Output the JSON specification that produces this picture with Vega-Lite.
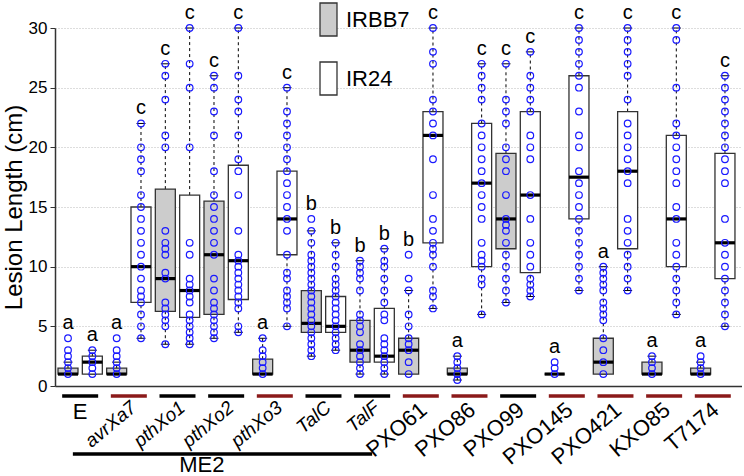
{
  "$schema": "https://vega.github.io/schema/vega-lite/v6.json",
  "padding": {"left": 2, "top": 2, "right": 0, "bottom": 0},
  "background": "white",
  "config": {"font": "Liberation Sans", "view": {"stroke": null}, "text": {"color": "black"}, "tick": {"opacity": 1}},
  "spacing": 0,
  "bounds": "flush",
  "datasets": {
    "stats": [
      {"strain":"E","cultivar":"IRBB7","q1":1,"median":1,"q3":1.5,"lo":1,"hi":2,"top":4,"letter":"a"},
      {"strain":"E","cultivar":"IR24","q1":1,"median":2,"q3":2.5,"lo":1,"hi":3,"top":3,"letter":"a"},
      {"strain":"avrXa7","cultivar":"IRBB7","q1":1,"median":1,"q3":1.5,"lo":1,"hi":2,"top":4,"letter":"a"},
      {"strain":"avrXa7","cultivar":"IR24","q1":7,"median":10,"q3":15,"lo":4,"hi":22,"top":22,"letter":"c"},
      {"strain":"pthXo1","cultivar":"IRBB7","q1":6.25,"median":9,"q3":16.5,"lo":3.5,"hi":27,"top":27,"letter":"c"},
      {"strain":"pthXo1","cultivar":"IR24","q1":5.75,"median":8,"q3":16,"lo":3.5,"hi":30,"top":30,"letter":"c"},
      {"strain":"pthXo2","cultivar":"IRBB7","q1":6,"median":11,"q3":15.5,"lo":4,"hi":26,"top":26,"letter":"c"},
      {"strain":"pthXo2","cultivar":"IR24","q1":7.25,"median":10.5,"q3":18.5,"lo":4.5,"hi":30,"top":30,"letter":"c"},
      {"strain":"pthXo3","cultivar":"IRBB7","q1":1,"median":1,"q3":2.25,"lo":1,"hi":4,"top":4,"letter":"a"},
      {"strain":"pthXo3","cultivar":"IR24","q1":11,"median":14,"q3":18,"lo":5,"hi":25,"top":25,"letter":"c"},
      {"strain":"TalC","cultivar":"IRBB7","q1":4.5,"median":5.25,"q3":8,"lo":2.5,"hi":13,"top":14,"letter":"b"},
      {"strain":"TalC","cultivar":"IR24","q1":4.5,"median":5,"q3":7.5,"lo":3,"hi":12,"top":12,"letter":"b"},
      {"strain":"TalF","cultivar":"IRBB7","q1":2,"median":3,"q3":5.5,"lo":1,"hi":10.5,"top":10.5,"letter":"b"},
      {"strain":"TalF","cultivar":"IR24","q1":2,"median":2.5,"q3":6.5,"lo":1,"hi":11.5,"top":11.5,"letter":"b"},
      {"strain":"PXO61","cultivar":"IRBB7","q1":1,"median":3,"q3":4,"lo":1,"hi":8,"top":11,"letter":"b"},
      {"strain":"PXO61","cultivar":"IR24","q1":12,"median":21,"q3":23,"lo":6.5,"hi":30,"top":30,"letter":"c"},
      {"strain":"PXO86","cultivar":"IRBB7","q1":1,"median":1,"q3":1.5,"lo":0.5,"hi":2.5,"top":2.5,"letter":"a"},
      {"strain":"PXO86","cultivar":"IR24","q1":10,"median":17,"q3":22,"lo":6,"hi":27,"top":27,"letter":"c"},
      {"strain":"PXO99","cultivar":"IRBB7","q1":11.5,"median":14,"q3":19.5,"lo":7,"hi":27,"top":27,"letter":"c"},
      {"strain":"PXO99","cultivar":"IR24","q1":9.5,"median":16,"q3":23,"lo":7.5,"hi":28,"top":28,"letter":"c"},
      {"strain":"PXO145","cultivar":"IRBB7","q1":1,"median":1,"q3":1,"lo":1,"hi":1,"top":2,"letter":"a"},
      {"strain":"PXO145","cultivar":"IR24","q1":14,"median":17.5,"q3":26,"lo":8,"hi":30,"top":30,"letter":"c"},
      {"strain":"PXO421","cultivar":"IRBB7","q1":1,"median":2,"q3":4,"lo":1,"hi":10,"top":10,"letter":"a"},
      {"strain":"PXO421","cultivar":"IR24","q1":11.5,"median":18,"q3":23,"lo":8,"hi":30,"top":30,"letter":"c"},
      {"strain":"KXO85","cultivar":"IRBB7","q1":1,"median":1,"q3":2,"lo":1,"hi":2.5,"top":2.5,"letter":"a"},
      {"strain":"KXO85","cultivar":"IR24","q1":10,"median":14,"q3":21,"lo":6,"hi":30,"top":30,"letter":"c"},
      {"strain":"T7174","cultivar":"IRBB7","q1":1,"median":1,"q3":1.5,"lo":1,"hi":2,"top":2.5,"letter":"a"},
      {"strain":"T7174","cultivar":"IR24","q1":9,"median":12,"q3":19.5,"lo":5,"hi":26,"top":26,"letter":"c"}
    ],
    "strains": [
      {"strain":"E","set":"E","Xa7":"virulent"},
      {"strain":"avrXa7","set":"ME2","Xa7":"avirulent"},
      {"strain":"pthXo1","set":"ME2","Xa7":"virulent"},
      {"strain":"pthXo2","set":"ME2","Xa7":"virulent"},
      {"strain":"pthXo3","set":"ME2","Xa7":"avirulent"},
      {"strain":"TalC","set":"ME2","Xa7":"virulent"},
      {"strain":"TalF","set":"ME2","Xa7":"virulent"},
      {"strain":"PXO61","set":"isolate","Xa7":"avirulent"},
      {"strain":"PXO86","set":"isolate","Xa7":"avirulent"},
      {"strain":"PXO99","set":"isolate","Xa7":"virulent"},
      {"strain":"PXO145","set":"isolate","Xa7":"avirulent"},
      {"strain":"PXO421","set":"isolate","Xa7":"avirulent"},
      {"strain":"KXO85","set":"isolate","Xa7":"avirulent"},
      {"strain":"T7174","set":"isolate","Xa7":"avirulent"}
    ],
    "points": [
      {"strain":"E","cultivar":"IRBB7","cm":1},{"strain":"E","cultivar":"IRBB7","cm":1.5},{"strain":"E","cultivar":"IRBB7","cm":2},{"strain":"E","cultivar":"IRBB7","cm":2.5},{"strain":"E","cultivar":"IRBB7","cm":3},{"strain":"E","cultivar":"IRBB7","cm":4},
      {"strain":"E","cultivar":"IR24","cm":1},{"strain":"E","cultivar":"IR24","cm":1.5},{"strain":"E","cultivar":"IR24","cm":2},{"strain":"E","cultivar":"IR24","cm":2.5},{"strain":"E","cultivar":"IR24","cm":3},
      {"strain":"avrXa7","cultivar":"IRBB7","cm":1},{"strain":"avrXa7","cultivar":"IRBB7","cm":1.5},{"strain":"avrXa7","cultivar":"IRBB7","cm":2},{"strain":"avrXa7","cultivar":"IRBB7","cm":2.5},{"strain":"avrXa7","cultivar":"IRBB7","cm":3},{"strain":"avrXa7","cultivar":"IRBB7","cm":4},
      {"strain":"avrXa7","cultivar":"IR24","cm":4},{"strain":"avrXa7","cultivar":"IR24","cm":5},{"strain":"avrXa7","cultivar":"IR24","cm":6},{"strain":"avrXa7","cultivar":"IR24","cm":7},{"strain":"avrXa7","cultivar":"IR24","cm":7.5},{"strain":"avrXa7","cultivar":"IR24","cm":8},{"strain":"avrXa7","cultivar":"IR24","cm":9},{"strain":"avrXa7","cultivar":"IR24","cm":10},{"strain":"avrXa7","cultivar":"IR24","cm":11},{"strain":"avrXa7","cultivar":"IR24","cm":12},{"strain":"avrXa7","cultivar":"IR24","cm":13},{"strain":"avrXa7","cultivar":"IR24","cm":14},{"strain":"avrXa7","cultivar":"IR24","cm":15},{"strain":"avrXa7","cultivar":"IR24","cm":16},{"strain":"avrXa7","cultivar":"IR24","cm":18},{"strain":"avrXa7","cultivar":"IR24","cm":19},{"strain":"avrXa7","cultivar":"IR24","cm":20},{"strain":"avrXa7","cultivar":"IR24","cm":22},
      {"strain":"pthXo1","cultivar":"IRBB7","cm":3.5},{"strain":"pthXo1","cultivar":"IRBB7","cm":5},{"strain":"pthXo1","cultivar":"IRBB7","cm":5.5},{"strain":"pthXo1","cultivar":"IRBB7","cm":6},{"strain":"pthXo1","cultivar":"IRBB7","cm":6.5},{"strain":"pthXo1","cultivar":"IRBB7","cm":7},{"strain":"pthXo1","cultivar":"IRBB7","cm":9},{"strain":"pthXo1","cultivar":"IRBB7","cm":9.5},{"strain":"pthXo1","cultivar":"IRBB7","cm":11},{"strain":"pthXo1","cultivar":"IRBB7","cm":11.5},{"strain":"pthXo1","cultivar":"IRBB7","cm":12},{"strain":"pthXo1","cultivar":"IRBB7","cm":13},{"strain":"pthXo1","cultivar":"IRBB7","cm":20},{"strain":"pthXo1","cultivar":"IRBB7","cm":21},{"strain":"pthXo1","cultivar":"IRBB7","cm":24},{"strain":"pthXo1","cultivar":"IRBB7","cm":26},{"strain":"pthXo1","cultivar":"IRBB7","cm":27},
      {"strain":"pthXo1","cultivar":"IR24","cm":3.5},{"strain":"pthXo1","cultivar":"IR24","cm":4},{"strain":"pthXo1","cultivar":"IR24","cm":4.5},{"strain":"pthXo1","cultivar":"IR24","cm":5},{"strain":"pthXo1","cultivar":"IR24","cm":5.5},{"strain":"pthXo1","cultivar":"IR24","cm":6},{"strain":"pthXo1","cultivar":"IR24","cm":7},{"strain":"pthXo1","cultivar":"IR24","cm":7.5},{"strain":"pthXo1","cultivar":"IR24","cm":8},{"strain":"pthXo1","cultivar":"IR24","cm":8.5},{"strain":"pthXo1","cultivar":"IR24","cm":9},{"strain":"pthXo1","cultivar":"IR24","cm":11},{"strain":"pthXo1","cultivar":"IR24","cm":12},{"strain":"pthXo1","cultivar":"IR24","cm":20},{"strain":"pthXo1","cultivar":"IR24","cm":25},{"strain":"pthXo1","cultivar":"IR24","cm":27},{"strain":"pthXo1","cultivar":"IR24","cm":30},
      {"strain":"pthXo2","cultivar":"IRBB7","cm":4},{"strain":"pthXo2","cultivar":"IRBB7","cm":4.5},{"strain":"pthXo2","cultivar":"IRBB7","cm":5},{"strain":"pthXo2","cultivar":"IRBB7","cm":5.5},{"strain":"pthXo2","cultivar":"IRBB7","cm":6},{"strain":"pthXo2","cultivar":"IRBB7","cm":6.5},{"strain":"pthXo2","cultivar":"IRBB7","cm":7},{"strain":"pthXo2","cultivar":"IRBB7","cm":8},{"strain":"pthXo2","cultivar":"IRBB7","cm":9},{"strain":"pthXo2","cultivar":"IRBB7","cm":11},{"strain":"pthXo2","cultivar":"IRBB7","cm":12},{"strain":"pthXo2","cultivar":"IRBB7","cm":13},{"strain":"pthXo2","cultivar":"IRBB7","cm":14},{"strain":"pthXo2","cultivar":"IRBB7","cm":15},{"strain":"pthXo2","cultivar":"IRBB7","cm":16},{"strain":"pthXo2","cultivar":"IRBB7","cm":18},{"strain":"pthXo2","cultivar":"IRBB7","cm":21},{"strain":"pthXo2","cultivar":"IRBB7","cm":23},{"strain":"pthXo2","cultivar":"IRBB7","cm":25},{"strain":"pthXo2","cultivar":"IRBB7","cm":26},
      {"strain":"pthXo2","cultivar":"IR24","cm":4.5},{"strain":"pthXo2","cultivar":"IR24","cm":5},{"strain":"pthXo2","cultivar":"IR24","cm":6.5},{"strain":"pthXo2","cultivar":"IR24","cm":7},{"strain":"pthXo2","cultivar":"IR24","cm":7.5},{"strain":"pthXo2","cultivar":"IR24","cm":8},{"strain":"pthXo2","cultivar":"IR24","cm":8.5},{"strain":"pthXo2","cultivar":"IR24","cm":9},{"strain":"pthXo2","cultivar":"IR24","cm":9.5},{"strain":"pthXo2","cultivar":"IR24","cm":10},{"strain":"pthXo2","cultivar":"IR24","cm":10.5},{"strain":"pthXo2","cultivar":"IR24","cm":11},{"strain":"pthXo2","cultivar":"IR24","cm":13},{"strain":"pthXo2","cultivar":"IR24","cm":16},{"strain":"pthXo2","cultivar":"IR24","cm":18},{"strain":"pthXo2","cultivar":"IR24","cm":19},{"strain":"pthXo2","cultivar":"IR24","cm":21},{"strain":"pthXo2","cultivar":"IR24","cm":23},{"strain":"pthXo2","cultivar":"IR24","cm":24},{"strain":"pthXo2","cultivar":"IR24","cm":26},{"strain":"pthXo2","cultivar":"IR24","cm":30},
      {"strain":"pthXo3","cultivar":"IRBB7","cm":1},{"strain":"pthXo3","cultivar":"IRBB7","cm":1.5},{"strain":"pthXo3","cultivar":"IRBB7","cm":2},{"strain":"pthXo3","cultivar":"IRBB7","cm":2.5},{"strain":"pthXo3","cultivar":"IRBB7","cm":3},{"strain":"pthXo3","cultivar":"IRBB7","cm":4},
      {"strain":"pthXo3","cultivar":"IR24","cm":5},{"strain":"pthXo3","cultivar":"IR24","cm":6.5},{"strain":"pthXo3","cultivar":"IR24","cm":7},{"strain":"pthXo3","cultivar":"IR24","cm":7.5},{"strain":"pthXo3","cultivar":"IR24","cm":8},{"strain":"pthXo3","cultivar":"IR24","cm":9},{"strain":"pthXo3","cultivar":"IR24","cm":9.5},{"strain":"pthXo3","cultivar":"IR24","cm":11},{"strain":"pthXo3","cultivar":"IR24","cm":13},{"strain":"pthXo3","cultivar":"IR24","cm":14},{"strain":"pthXo3","cultivar":"IR24","cm":15},{"strain":"pthXo3","cultivar":"IR24","cm":16},{"strain":"pthXo3","cultivar":"IR24","cm":17},{"strain":"pthXo3","cultivar":"IR24","cm":18},{"strain":"pthXo3","cultivar":"IR24","cm":19},{"strain":"pthXo3","cultivar":"IR24","cm":20},{"strain":"pthXo3","cultivar":"IR24","cm":21},{"strain":"pthXo3","cultivar":"IR24","cm":22},{"strain":"pthXo3","cultivar":"IR24","cm":23},{"strain":"pthXo3","cultivar":"IR24","cm":25},
      {"strain":"TalC","cultivar":"IRBB7","cm":2.5},{"strain":"TalC","cultivar":"IRBB7","cm":3},{"strain":"TalC","cultivar":"IRBB7","cm":3.5},{"strain":"TalC","cultivar":"IRBB7","cm":4},{"strain":"TalC","cultivar":"IRBB7","cm":4.5},{"strain":"TalC","cultivar":"IRBB7","cm":5},{"strain":"TalC","cultivar":"IRBB7","cm":5.5},{"strain":"TalC","cultivar":"IRBB7","cm":6},{"strain":"TalC","cultivar":"IRBB7","cm":6.5},{"strain":"TalC","cultivar":"IRBB7","cm":7},{"strain":"TalC","cultivar":"IRBB7","cm":7.5},{"strain":"TalC","cultivar":"IRBB7","cm":8},{"strain":"TalC","cultivar":"IRBB7","cm":8.5},{"strain":"TalC","cultivar":"IRBB7","cm":9},{"strain":"TalC","cultivar":"IRBB7","cm":9.5},{"strain":"TalC","cultivar":"IRBB7","cm":10},{"strain":"TalC","cultivar":"IRBB7","cm":10.5},{"strain":"TalC","cultivar":"IRBB7","cm":11},{"strain":"TalC","cultivar":"IRBB7","cm":12},{"strain":"TalC","cultivar":"IRBB7","cm":13},{"strain":"TalC","cultivar":"IRBB7","cm":14},
      {"strain":"TalC","cultivar":"IR24","cm":3},{"strain":"TalC","cultivar":"IR24","cm":3.5},{"strain":"TalC","cultivar":"IR24","cm":4},{"strain":"TalC","cultivar":"IR24","cm":4.5},{"strain":"TalC","cultivar":"IR24","cm":5},{"strain":"TalC","cultivar":"IR24","cm":5.5},{"strain":"TalC","cultivar":"IR24","cm":6},{"strain":"TalC","cultivar":"IR24","cm":6.5},{"strain":"TalC","cultivar":"IR24","cm":7},{"strain":"TalC","cultivar":"IR24","cm":7.5},{"strain":"TalC","cultivar":"IR24","cm":8},{"strain":"TalC","cultivar":"IR24","cm":8.5},{"strain":"TalC","cultivar":"IR24","cm":9},{"strain":"TalC","cultivar":"IR24","cm":10},{"strain":"TalC","cultivar":"IR24","cm":11},{"strain":"TalC","cultivar":"IR24","cm":12},
      {"strain":"TalF","cultivar":"IRBB7","cm":1},{"strain":"TalF","cultivar":"IRBB7","cm":1.5},{"strain":"TalF","cultivar":"IRBB7","cm":2},{"strain":"TalF","cultivar":"IRBB7","cm":2.5},{"strain":"TalF","cultivar":"IRBB7","cm":3},{"strain":"TalF","cultivar":"IRBB7","cm":3.5},{"strain":"TalF","cultivar":"IRBB7","cm":4.5},{"strain":"TalF","cultivar":"IRBB7","cm":5},{"strain":"TalF","cultivar":"IRBB7","cm":5.5},{"strain":"TalF","cultivar":"IRBB7","cm":6},{"strain":"TalF","cultivar":"IRBB7","cm":8},{"strain":"TalF","cultivar":"IRBB7","cm":9},{"strain":"TalF","cultivar":"IRBB7","cm":9.5},{"strain":"TalF","cultivar":"IRBB7","cm":10},{"strain":"TalF","cultivar":"IRBB7","cm":10.5},
      {"strain":"TalF","cultivar":"IR24","cm":1},{"strain":"TalF","cultivar":"IR24","cm":1.5},{"strain":"TalF","cultivar":"IR24","cm":2},{"strain":"TalF","cultivar":"IR24","cm":2.5},{"strain":"TalF","cultivar":"IR24","cm":3},{"strain":"TalF","cultivar":"IR24","cm":3.5},{"strain":"TalF","cultivar":"IR24","cm":4},{"strain":"TalF","cultivar":"IR24","cm":5.5},{"strain":"TalF","cultivar":"IR24","cm":6},{"strain":"TalF","cultivar":"IR24","cm":7},{"strain":"TalF","cultivar":"IR24","cm":8},{"strain":"TalF","cultivar":"IR24","cm":9},{"strain":"TalF","cultivar":"IR24","cm":10},{"strain":"TalF","cultivar":"IR24","cm":10.5},{"strain":"TalF","cultivar":"IR24","cm":11.5},
      {"strain":"PXO61","cultivar":"IRBB7","cm":1},{"strain":"PXO61","cultivar":"IRBB7","cm":2},{"strain":"PXO61","cultivar":"IRBB7","cm":3},{"strain":"PXO61","cultivar":"IRBB7","cm":3.5},{"strain":"PXO61","cultivar":"IRBB7","cm":4},{"strain":"PXO61","cultivar":"IRBB7","cm":5},{"strain":"PXO61","cultivar":"IRBB7","cm":6},{"strain":"PXO61","cultivar":"IRBB7","cm":8},{"strain":"PXO61","cultivar":"IRBB7","cm":9},{"strain":"PXO61","cultivar":"IRBB7","cm":11},
      {"strain":"PXO61","cultivar":"IR24","cm":6.5},{"strain":"PXO61","cultivar":"IR24","cm":7.5},{"strain":"PXO61","cultivar":"IR24","cm":8},{"strain":"PXO61","cultivar":"IR24","cm":10},{"strain":"PXO61","cultivar":"IR24","cm":11},{"strain":"PXO61","cultivar":"IR24","cm":11.5},{"strain":"PXO61","cultivar":"IR24","cm":12},{"strain":"PXO61","cultivar":"IR24","cm":13},{"strain":"PXO61","cultivar":"IR24","cm":14},{"strain":"PXO61","cultivar":"IR24","cm":16},{"strain":"PXO61","cultivar":"IR24","cm":19},{"strain":"PXO61","cultivar":"IR24","cm":21},{"strain":"PXO61","cultivar":"IR24","cm":22},{"strain":"PXO61","cultivar":"IR24","cm":23},{"strain":"PXO61","cultivar":"IR24","cm":24},{"strain":"PXO61","cultivar":"IR24","cm":27},{"strain":"PXO61","cultivar":"IR24","cm":28},{"strain":"PXO61","cultivar":"IR24","cm":30},
      {"strain":"PXO86","cultivar":"IRBB7","cm":0.5},{"strain":"PXO86","cultivar":"IRBB7","cm":1},{"strain":"PXO86","cultivar":"IRBB7","cm":1.5},{"strain":"PXO86","cultivar":"IRBB7","cm":2},{"strain":"PXO86","cultivar":"IRBB7","cm":2.5},
      {"strain":"PXO86","cultivar":"IR24","cm":6},{"strain":"PXO86","cultivar":"IR24","cm":8.5},{"strain":"PXO86","cultivar":"IR24","cm":9},{"strain":"PXO86","cultivar":"IR24","cm":10},{"strain":"PXO86","cultivar":"IR24","cm":10.5},{"strain":"PXO86","cultivar":"IR24","cm":11},{"strain":"PXO86","cultivar":"IR24","cm":12},{"strain":"PXO86","cultivar":"IR24","cm":14},{"strain":"PXO86","cultivar":"IR24","cm":15},{"strain":"PXO86","cultivar":"IR24","cm":16},{"strain":"PXO86","cultivar":"IR24","cm":17},{"strain":"PXO86","cultivar":"IR24","cm":18},{"strain":"PXO86","cultivar":"IR24","cm":19},{"strain":"PXO86","cultivar":"IR24","cm":20},{"strain":"PXO86","cultivar":"IR24","cm":21},{"strain":"PXO86","cultivar":"IR24","cm":22},{"strain":"PXO86","cultivar":"IR24","cm":24},{"strain":"PXO86","cultivar":"IR24","cm":25},{"strain":"PXO86","cultivar":"IR24","cm":26},{"strain":"PXO86","cultivar":"IR24","cm":27},
      {"strain":"PXO99","cultivar":"IRBB7","cm":7},{"strain":"PXO99","cultivar":"IRBB7","cm":8},{"strain":"PXO99","cultivar":"IRBB7","cm":9},{"strain":"PXO99","cultivar":"IRBB7","cm":10},{"strain":"PXO99","cultivar":"IRBB7","cm":11},{"strain":"PXO99","cultivar":"IRBB7","cm":12},{"strain":"PXO99","cultivar":"IRBB7","cm":13},{"strain":"PXO99","cultivar":"IRBB7","cm":13.5},{"strain":"PXO99","cultivar":"IRBB7","cm":14},{"strain":"PXO99","cultivar":"IRBB7","cm":16},{"strain":"PXO99","cultivar":"IRBB7","cm":18},{"strain":"PXO99","cultivar":"IRBB7","cm":19},{"strain":"PXO99","cultivar":"IRBB7","cm":20},{"strain":"PXO99","cultivar":"IRBB7","cm":22},{"strain":"PXO99","cultivar":"IRBB7","cm":23},{"strain":"PXO99","cultivar":"IRBB7","cm":24},{"strain":"PXO99","cultivar":"IRBB7","cm":27},
      {"strain":"PXO99","cultivar":"IR24","cm":7.5},{"strain":"PXO99","cultivar":"IR24","cm":8},{"strain":"PXO99","cultivar":"IR24","cm":8.5},{"strain":"PXO99","cultivar":"IR24","cm":9},{"strain":"PXO99","cultivar":"IR24","cm":10},{"strain":"PXO99","cultivar":"IR24","cm":11},{"strain":"PXO99","cultivar":"IR24","cm":12},{"strain":"PXO99","cultivar":"IR24","cm":14},{"strain":"PXO99","cultivar":"IR24","cm":16},{"strain":"PXO99","cultivar":"IR24","cm":19},{"strain":"PXO99","cultivar":"IR24","cm":20},{"strain":"PXO99","cultivar":"IR24","cm":21},{"strain":"PXO99","cultivar":"IR24","cm":23},{"strain":"PXO99","cultivar":"IR24","cm":24},{"strain":"PXO99","cultivar":"IR24","cm":25},{"strain":"PXO99","cultivar":"IR24","cm":26},{"strain":"PXO99","cultivar":"IR24","cm":28},
      {"strain":"PXO145","cultivar":"IRBB7","cm":1},{"strain":"PXO145","cultivar":"IRBB7","cm":1.5},{"strain":"PXO145","cultivar":"IRBB7","cm":2},
      {"strain":"PXO145","cultivar":"IR24","cm":8},{"strain":"PXO145","cultivar":"IR24","cm":9},{"strain":"PXO145","cultivar":"IR24","cm":10},{"strain":"PXO145","cultivar":"IR24","cm":11},{"strain":"PXO145","cultivar":"IR24","cm":12},{"strain":"PXO145","cultivar":"IR24","cm":13},{"strain":"PXO145","cultivar":"IR24","cm":14},{"strain":"PXO145","cultivar":"IR24","cm":15},{"strain":"PXO145","cultivar":"IR24","cm":16},{"strain":"PXO145","cultivar":"IR24","cm":17},{"strain":"PXO145","cultivar":"IR24","cm":18},{"strain":"PXO145","cultivar":"IR24","cm":20},{"strain":"PXO145","cultivar":"IR24","cm":21},{"strain":"PXO145","cultivar":"IR24","cm":23},{"strain":"PXO145","cultivar":"IR24","cm":25},{"strain":"PXO145","cultivar":"IR24","cm":26},{"strain":"PXO145","cultivar":"IR24","cm":27},{"strain":"PXO145","cultivar":"IR24","cm":28},{"strain":"PXO145","cultivar":"IR24","cm":29},{"strain":"PXO145","cultivar":"IR24","cm":30},
      {"strain":"PXO421","cultivar":"IRBB7","cm":1},{"strain":"PXO421","cultivar":"IRBB7","cm":2},{"strain":"PXO421","cultivar":"IRBB7","cm":3},{"strain":"PXO421","cultivar":"IRBB7","cm":4},{"strain":"PXO421","cultivar":"IRBB7","cm":5.5},{"strain":"PXO421","cultivar":"IRBB7","cm":6},{"strain":"PXO421","cultivar":"IRBB7","cm":6.5},{"strain":"PXO421","cultivar":"IRBB7","cm":7},{"strain":"PXO421","cultivar":"IRBB7","cm":8},{"strain":"PXO421","cultivar":"IRBB7","cm":8.5},{"strain":"PXO421","cultivar":"IRBB7","cm":9},{"strain":"PXO421","cultivar":"IRBB7","cm":9.5},{"strain":"PXO421","cultivar":"IRBB7","cm":10},
      {"strain":"PXO421","cultivar":"IR24","cm":8},{"strain":"PXO421","cultivar":"IR24","cm":9},{"strain":"PXO421","cultivar":"IR24","cm":10},{"strain":"PXO421","cultivar":"IR24","cm":11},{"strain":"PXO421","cultivar":"IR24","cm":12},{"strain":"PXO421","cultivar":"IR24","cm":13},{"strain":"PXO421","cultivar":"IR24","cm":14},{"strain":"PXO421","cultivar":"IR24","cm":17},{"strain":"PXO421","cultivar":"IR24","cm":18},{"strain":"PXO421","cultivar":"IR24","cm":19},{"strain":"PXO421","cultivar":"IR24","cm":20},{"strain":"PXO421","cultivar":"IR24","cm":21},{"strain":"PXO421","cultivar":"IR24","cm":22},{"strain":"PXO421","cultivar":"IR24","cm":24},{"strain":"PXO421","cultivar":"IR24","cm":26},{"strain":"PXO421","cultivar":"IR24","cm":27},{"strain":"PXO421","cultivar":"IR24","cm":28},{"strain":"PXO421","cultivar":"IR24","cm":29},{"strain":"PXO421","cultivar":"IR24","cm":30},
      {"strain":"KXO85","cultivar":"IRBB7","cm":1},{"strain":"KXO85","cultivar":"IRBB7","cm":1.5},{"strain":"KXO85","cultivar":"IRBB7","cm":2},{"strain":"KXO85","cultivar":"IRBB7","cm":2.5},
      {"strain":"KXO85","cultivar":"IR24","cm":6},{"strain":"KXO85","cultivar":"IR24","cm":7},{"strain":"KXO85","cultivar":"IR24","cm":8},{"strain":"KXO85","cultivar":"IR24","cm":9},{"strain":"KXO85","cultivar":"IR24","cm":10},{"strain":"KXO85","cultivar":"IR24","cm":11},{"strain":"KXO85","cultivar":"IR24","cm":12},{"strain":"KXO85","cultivar":"IR24","cm":14},{"strain":"KXO85","cultivar":"IR24","cm":15},{"strain":"KXO85","cultivar":"IR24","cm":17},{"strain":"KXO85","cultivar":"IR24","cm":18},{"strain":"KXO85","cultivar":"IR24","cm":19},{"strain":"KXO85","cultivar":"IR24","cm":20},{"strain":"KXO85","cultivar":"IR24","cm":21},{"strain":"KXO85","cultivar":"IR24","cm":22},{"strain":"KXO85","cultivar":"IR24","cm":25},{"strain":"KXO85","cultivar":"IR24","cm":29},{"strain":"KXO85","cultivar":"IR24","cm":30},
      {"strain":"T7174","cultivar":"IRBB7","cm":1},{"strain":"T7174","cultivar":"IRBB7","cm":1.5},{"strain":"T7174","cultivar":"IRBB7","cm":2},{"strain":"T7174","cultivar":"IRBB7","cm":2.5},
      {"strain":"T7174","cultivar":"IR24","cm":5},{"strain":"T7174","cultivar":"IR24","cm":6},{"strain":"T7174","cultivar":"IR24","cm":7},{"strain":"T7174","cultivar":"IR24","cm":8},{"strain":"T7174","cultivar":"IR24","cm":9},{"strain":"T7174","cultivar":"IR24","cm":10},{"strain":"T7174","cultivar":"IR24","cm":11},{"strain":"T7174","cultivar":"IR24","cm":12},{"strain":"T7174","cultivar":"IR24","cm":14},{"strain":"T7174","cultivar":"IR24","cm":17},{"strain":"T7174","cultivar":"IR24","cm":18},{"strain":"T7174","cultivar":"IR24","cm":19},{"strain":"T7174","cultivar":"IR24","cm":20},{"strain":"T7174","cultivar":"IR24","cm":21},{"strain":"T7174","cultivar":"IR24","cm":22},{"strain":"T7174","cultivar":"IR24","cm":23},{"strain":"T7174","cultivar":"IR24","cm":24},{"strain":"T7174","cultivar":"IR24","cm":25},{"strain":"T7174","cultivar":"IR24","cm":26}
    ]
  },
  "vconcat": [
    {
      "width": 687,
      "height": 358,
      "encoding": {
        "x": {"field": "strain", "type": "nominal", "sort": ["E","avrXa7","pthXo1","pthXo2","pthXo3","TalC","TalF","PXO61","PXO86","PXO99","PXO145","PXO421","KXO85","T7174"],
          "scale": {"domain": ["E","avrXa7","pthXo1","pthXo2","pthXo3","TalC","TalF","PXO61","PXO86","PXO99","PXO145","PXO421","KXO85","T7174"], "paddingInner": 0, "paddingOuter": 0.0586, "align": 0.146},
          "axis": null},
        "xOffset": {"field": "cultivar", "type": "nominal", "sort": ["IRBB7","IR24"], "scale": {"domain": ["IRBB7","IR24"], "paddingInner": 0, "paddingOuter": 0}}
      },
      "layer": [
        {
          "data": {"name": "stats"},
          "mark": {"type": "rule", "color": "black", "strokeWidth": 1, "strokeDash": [3, 3]},
          "encoding": {
            "y": {"field": "q3", "type": "quantitative", "scale": {"domain": [0, 30], "nice": false},
              "axis": {"title": "Lesion Length (cm)", "titleFontSize": 24, "titleFontWeight": "normal", "titleColor": "black", "titlePadding": 2, "values": [0,5,10,15,20,25,30], "labelFontSize": 17, "labelColor": "black", "labelPadding": 3, "tickSize": 5, "tickColor": "#333333", "domainColor": "#333333", "domainWidth": 1.5, "grid": true, "gridColor": "#bbbbbb", "gridDash": [1, 2], "gridWidth": 1}},
            "y2": {"field": "hi"}
          }
        },
        {
          "data": {"name": "stats"},
          "mark": {"type": "rule", "color": "black", "strokeWidth": 1, "strokeDash": [3, 3]},
          "encoding": {"y": {"field": "lo", "type": "quantitative"}, "y2": {"field": "q1"}}
        },
        {
          "data": {"name": "stats"},
          "mark": {"type": "tick", "color": "black", "size": 9, "thickness": 1, "opacity": 1},
          "encoding": {"y": {"field": "hi", "type": "quantitative"}}
        },
        {
          "data": {"name": "stats"},
          "mark": {"type": "tick", "color": "black", "size": 9, "thickness": 1, "opacity": 1},
          "encoding": {"y": {"field": "lo", "type": "quantitative"}}
        },
        {
          "data": {"name": "stats"},
          "mark": {"type": "bar", "width": 20, "stroke": "#333333", "strokeWidth": 1.3},
          "encoding": {
            "y": {"field": "q1", "type": "quantitative"},
            "y2": {"field": "q3"},
            "fill": {"field": "cultivar", "type": "nominal", "scale": {"domain": ["IRBB7","IR24"], "range": ["#cccccc", "#ffffff"]},
              "legend": {"orient": "none", "legendX": 256, "legendY": -26, "title": null, "direction": "vertical",
                "symbolType": "M-0.515,-1L0.515,-1L0.515,1L-0.515,1Z", "symbolSize": 1089, "symbolStrokeColor": "#333333", "symbolStrokeWidth": 1.3,
                "labelFontSize": 22, "labelColor": "black", "labelOffset": 0, "rowPadding": 20,
                "encode": {"symbols": {"update": {"fill": {"signal": "datum.value === 'IRBB7' ? '#777777' : '#ffffff'"}, "stroke": {"value": "#333333"}, "opacity": {"value": 1}}}}}}
          }
        },
        {
          "data": {"name": "stats"},
          "mark": {"type": "tick", "color": "black", "size": 20, "thickness": 3.2, "opacity": 1},
          "encoding": {"y": {"field": "median", "type": "quantitative"}}
        },
        {
          "data": {"name": "points"},
          "mark": {"type": "point", "shape": "circle", "filled": false, "color": "#1a1aff", "size": 44, "strokeWidth": 1.2, "opacity": 1},
          "encoding": {"y": {"field": "cm", "type": "quantitative"}}
        },
        {
          "data": {"name": "stats"},
          "mark": {"type": "text", "fontSize": 20, "dy": -9, "baseline": "alphabetic", "color": "black"},
          "encoding": {"y": {"field": "top", "type": "quantitative"}, "text": {"field": "letter"}}
        }
      ]
    },
    {
      "width": 687,
      "height": 89,
      "data": {"name": "strains"},
      "encoding": {
        "x": {"field": "strain", "type": "nominal", "sort": ["E","avrXa7","pthXo1","pthXo2","pthXo3","TalC","TalF","PXO61","PXO86","PXO99","PXO145","PXO421","KXO85","T7174"],
          "scale": {"domain": ["E","avrXa7","pthXo1","pthXo2","pthXo3","TalC","TalF","PXO61","PXO86","PXO99","PXO145","PXO421","KXO85","T7174"], "paddingInner": 0, "paddingOuter": 0.0586, "align": 0.146},
          "axis": {"orient": "top", "title": null, "labels": false, "ticks": false, "domain": true, "domainColor": "#333333", "domainWidth": 1.5, "grid": false, "minExtent": 0, "maxExtent": 0}}
      },
      "layer": [
        {
          "mark": {"type": "tick", "orient": "horizontal", "size": 36, "thickness": 3.5, "opacity": 1},
          "encoding": {"y": {"value": 10}, "color": {"field": "Xa7", "type": "nominal", "scale": {"domain": ["avirulent","virulent"], "range": ["#8b1a1a", "#000000"]}, "legend": null}}
        },
        {
          "transform": [{"filter": "datum.set === 'E'"}],
          "mark": {"type": "text", "fontSize": 22, "align": "center", "baseline": "middle", "color": "black"},
          "encoding": {"y": {"value": 26}, "text": {"field": "strain"}}
        },
        {
          "transform": [{"filter": "datum.set === 'ME2'"}],
          "mark": {"type": "text", "fontSize": 19, "fontStyle": "italic", "angle": 320, "align": "right", "baseline": "middle", "xOffset": 5, "color": "black"},
          "encoding": {"y": {"value": 19}, "text": {"field": "strain"}}
        },
        {
          "transform": [{"filter": "datum.set === 'isolate'"}],
          "mark": {"type": "text", "fontSize": 22, "angle": 320, "align": "right", "baseline": "middle", "xOffset": 3, "color": "black"},
          "encoding": {"y": {"value": 21}, "text": {"field": "strain"}}
        },
        {
          "transform": [{"filter": "datum.set === 'E'"}],
          "mark": {"type": "rule", "strokeWidth": 3.5, "color": "black"},
          "encoding": {"x": {"datum": "E", "type": "nominal", "bandPosition": 0.35}, "x2": {"datum": "TalF"}, "y": {"value": 68}}
        },
        {
          "transform": [{"filter": "datum.set === 'E'"}],
          "mark": {"type": "text", "fontSize": 22, "align": "center", "baseline": "middle", "color": "black"},
          "encoding": {"x": {"datum": "pthXo1", "type": "nominal", "bandPosition": 1}, "y": {"value": 79}, "text": {"value": "ME2"}}
        }
      ]
    }
  ]
}
